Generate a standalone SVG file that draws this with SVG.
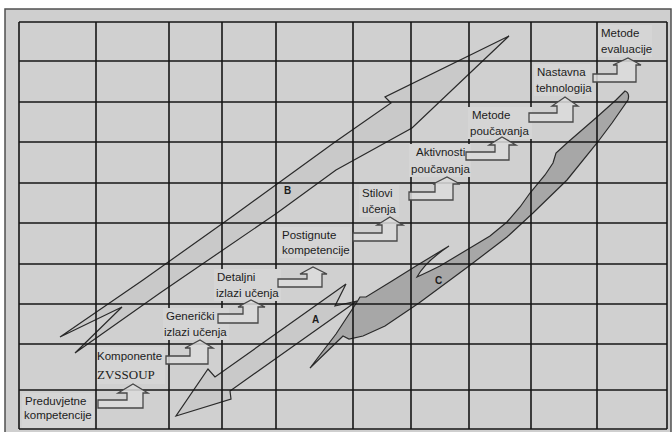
<svg xmlns="http://www.w3.org/2000/svg" width="672" height="432" viewBox="0 0 672 432">
<style>
.grid line{stroke:#161616;stroke-width:1.6}
.big{fill:#c9c9c9;stroke:#2a2a2a;stroke-width:1.2;stroke-linejoin:miter}
.cshape{fill:#a7a7a7;stroke:#2a2a2a;stroke-width:1.2}
.box{fill:#d5d5d5}
.lbl{font-family:"Liberation Sans",Arial,sans-serif;font-size:11.5px;fill:#1c1c1c}
.serif{font-family:"Liberation Serif","Times New Roman",serif;font-size:13px;fill:#1c1c1c}
.letter{font-family:"Liberation Sans",Arial,sans-serif;font-size:10px;font-weight:bold;fill:#1c1c1c}
.step{fill:#dcdcdc;fill-opacity:0.85;stroke:#474747;stroke-width:1.3;stroke-linejoin:miter}
</style>
<rect x="0" y="0" width="672" height="432" fill="#ffffff"/>
<rect x="5" y="9" width="666" height="424" fill="#cfcfcf" stroke="#505050" stroke-width="1.5"/>
<rect x="19" y="22" width="648" height="407" fill="#d0d0d0"/>

<g id="arrow-B">
<polygon class="big" points="60,337 143,280 233,216 335,142 391,103 385,97 509,36 412,128 336,170 277,213 160,293 75,353 122,307"/>
</g>
<g id="arrow-A">
<polygon class="big" points="346,284 215,377 208,369 176,416 231,399 230,391 357,301 335,306"/>
</g>
<g id="shape-C">
<path class="cshape" d="M310,368 L336,334 L357,302 L360,297 L366,297 L392,281 L416,266 L449,246 Q425,262 417,277 Q428,272 440,266 L470,248 L490,236 L507,222 L520,207 L530,193 L545,175 L553,163 L556,153 L567,143 L597,117 L616,100 L625,91 Q630,93 628,100 L612,123 L597,143 L567,180 L533,213 L507,237 L469,266 L419,303 L385,326 L363,336 L349,339 L343,336 Z"/>
</g>

<g class="grid" id="grid">
<line x1="19" y1="22" x2="19" y2="429"/>
<line x1="96" y1="22" x2="96" y2="429"/>
<line x1="169" y1="22" x2="169" y2="429"/>
<line x1="222" y1="22" x2="222" y2="429"/>
<line x1="276" y1="22" x2="276" y2="429"/>
<line x1="353" y1="22" x2="353" y2="429"/>
<line x1="411" y1="22" x2="411" y2="429"/>
<line x1="469" y1="22" x2="469" y2="429"/>
<line x1="531" y1="22" x2="531" y2="429"/>
<line x1="597" y1="22" x2="597" y2="429"/>
<line x1="667" y1="22" x2="667" y2="429"/>
<line x1="19" y1="22" x2="667" y2="22"/>
<line x1="19" y1="61" x2="667" y2="61"/>
<line x1="19" y1="102" x2="667" y2="102"/>
<line x1="19" y1="142" x2="667" y2="142"/>
<line x1="19" y1="183" x2="667" y2="183"/>
<line x1="19" y1="223" x2="667" y2="223"/>
<line x1="19" y1="264" x2="667" y2="264"/>
<line x1="19" y1="304" x2="667" y2="304"/>
<line x1="19" y1="344" x2="667" y2="344"/>
<line x1="19" y1="390" x2="667" y2="390"/>
<line x1="19" y1="429" x2="667" y2="429"/>
</g>

<text class="letter" x="284" y="194">B</text>
<text class="letter" x="312" y="323">A</text>
<text class="letter" x="435" y="284">C</text>

<g id="node-preduvjetne">
<rect class="box" x="22" y="393" width="72" height="35"/>
<text class="lbl" x="25" y="405">Preduvjetne</text>
<text class="lbl" x="24" y="419">kompetencije</text>
</g>
<g id="node-komponente">
<rect class="box" x="97" y="347" width="68" height="37"/>
<text class="lbl" x="97" y="360">Komponente</text>
<text class="serif" x="97" y="379">ZVSSOUP</text>
</g>
<g id="node-genericki">
<rect class="box" x="163" y="308" width="66" height="32"/>
<text class="lbl" x="166" y="320">Generički</text>
<text class="lbl" x="164" y="336">izlazi učenja</text>
</g>
<g id="node-detaljni">
<rect class="box" x="214" y="269" width="67" height="32"/>
<text class="lbl" x="217" y="281">Detaljni</text>
<text class="lbl" x="216" y="297">izlazi učenja</text>
</g>
<g id="node-postignute">
<rect class="box" x="279" y="227" width="71" height="31"/>
<text class="lbl" x="282" y="239">Postignute</text>
<text class="lbl" x="282" y="254">kompetencije</text>
</g>
<g id="node-stilovi">
<rect class="box" x="359" y="185" width="40" height="32"/>
<text class="lbl" x="362" y="197">Stilovi</text>
<text class="lbl" x="362" y="213">učenja</text>
</g>
<g id="node-aktivnosti">
<rect class="box" x="409" y="144" width="62" height="33"/>
<text class="lbl" x="416" y="156">Aktivnosti</text>
<text class="lbl" x="411" y="173">poučavanja</text>
</g>
<g id="node-metode-poucavanja">
<rect class="box" x="468" y="107" width="64" height="32"/>
<text class="lbl" x="472" y="119">Metode</text>
<text class="lbl" x="470" y="135">poučavanja</text>
</g>
<g id="node-nastavna">
<rect class="box" x="534" y="64" width="56" height="32"/>
<text class="lbl" x="537" y="76">Nastavna</text>
<text class="lbl" x="536" y="92">tehnologija</text>
</g>
<g id="node-metode-evaluacije">
<rect class="box" x="598" y="25" width="54" height="32"/>
<text class="lbl" x="601" y="37">Metode</text>
<text class="lbl" x="601" y="53">evaluacije</text>
</g>

<g id="connectors">
<path class="step" d="M98,400 L127,400 L127,393 L118,393 L133,384 L148,393 L143,393 L143,408 L98,408 Z"/>
<path class="step" d="M166,356 L190,356 L190,348 L185,348 L200,340 L213,348 L208,348 L208,364 L166,364 Z"/>
<path class="step" d="M218,314 L243,314 L243,307 L238,307 L251,300 L265,307 L258,307 L258,323 L218,323 Z"/>
<path class="step" d="M278,279 L307,279 L307,274 L300,274 L313,267 L327,274 L322,274 L322,287 L278,287 Z"/>
<path class="step" d="M353,233 L382,233 L382,225 L377,225 L390,217 L403,225 L397,225 L397,241 L353,241 Z"/>
<path class="step" d="M409,192 L435,192 L435,184 L433,184 L447,177 L460,184 L453,184 L453,200 L409,200 Z"/>
<path class="step" d="M466,152 L495,152 L495,145 L489,145 L502,137 L516,145 L509,145 L509,160 L466,160 Z"/>
<path class="step" d="M529,113 L557,113 L557,106 L552,106 L565,97 L578,106 L573,106 L573,122 L529,122 Z"/>
<path class="step" d="M593,74 L617,74 L617,65 L613,65 L628,58 L641,65 L636,65 L636,82 L593,82 Z"/>
</g>
</svg>
